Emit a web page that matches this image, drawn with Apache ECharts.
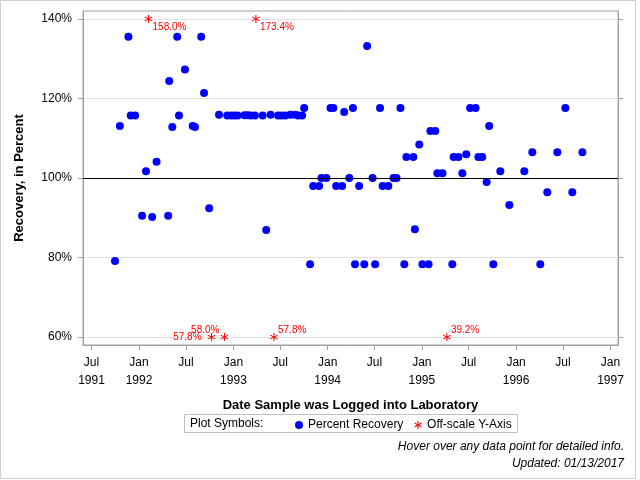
<!DOCTYPE html>
<html>
<head>
<meta charset="utf-8">
<script src="https://cdn.jsdelivr.net/npm/echarts@6/dist/echarts.min.js"></script>
<style>
  html, body { margin: 0; padding: 0; background: #fff; }
  #chart { width: 640px; height: 480px; }
</style>
</head>
<body>
<div id="chart"></div>
<script>
// 样本登记日期与回收率
const recoveryDates = [
  '1991-09-30', '1991-10-19', '1991-11-21', '1991-11-30', '1991-12-17',
  '1992-01-13', '1992-01-28', '1992-02-21', '1992-03-09', '1992-04-23',
  '1992-04-27', '1992-05-09', '1992-05-28', '1992-06-04', '1992-06-27',
  '1992-07-27', '1992-08-05', '1992-08-29', '1992-09-09', '1992-09-29',
  '1992-11-06', '1992-12-08', '1992-12-23', '1993-01-04', '1993-01-17',
  '1993-02-13', '1993-02-25', '1993-03-09', '1993-03-25', '1993-04-24',
  '1993-05-08', '1993-05-25', '1993-06-23', '1993-07-06', '1993-07-21',
  '1993-08-10', '1993-08-29', '1993-09-09', '1993-09-24', '1993-10-02',
  '1993-10-25', '1993-11-06', '1993-11-29', '1993-12-08', '1993-12-27',
  '1994-01-12', '1994-01-23', '1994-02-03', '1994-02-26', '1994-03-06',
  '1994-03-26', '1994-04-09', '1994-04-17', '1994-05-03', '1994-05-23',
  '1994-06-03', '1994-06-24', '1994-07-04', '1994-07-23', '1994-08-02',
  '1994-08-24', '1994-09-13', '1994-09-25', '1994-10-10', '1994-10-25',
  '1994-11-02', '1994-11-29', '1994-12-05', '1994-12-22', '1995-01-03',
  '1995-01-27', '1995-02-03', '1995-02-22', '1995-03-02', '1995-03-22',
  '1995-04-29', '1995-05-04', '1995-05-23', '1995-06-07', '1995-06-22',
  '1995-07-07', '1995-07-28', '1995-08-08', '1995-08-23', '1995-09-09',
  '1995-09-19', '1995-10-05', '1995-11-01', '1995-12-06', '1996-02-02',
  '1996-03-04', '1996-04-04', '1996-05-01', '1996-06-09', '1996-07-10',
  '1996-08-06', '1996-09-14'
]
const recoveryValues = [
  79.1, 113.1, 135.5, 115.7, 115.7,
  90.5, 101.7, 90.2, 104.1, 90.5,
  124.4, 112.8, 135.5, 115.7, 127.3,
  113.1, 112.8, 135.5, 121.4, 92.4,
  115.9, 115.7, 115.7, 115.7, 115.7,
  115.8, 115.8, 115.7, 115.7, 115.7,
  86.9, 115.9, 115.7, 115.7, 115.7,
  115.9, 115.9, 115.7, 115.7, 117.6,
  78.3, 98.0, 98.0, 100.0, 100.0,
  117.6, 117.6, 98.0, 98.0, 116.6,
  100.0, 117.6, 78.3, 98.0, 78.3,
  133.2, 100.0, 78.3, 117.6, 98.0,
  98.0, 100.0, 100.0, 117.6, 78.3,
  105.3, 105.3, 87.1, 108.4, 78.3,
  78.3, 111.8, 111.8, 101.2, 101.2,
  78.3, 105.3, 105.3, 101.2, 106.0,
  117.6, 117.6, 105.3, 105.3, 99.0,
  113.1, 78.3, 101.7, 93.2, 101.7,
  106.5, 78.3, 96.4, 106.5, 117.6,
  96.4, 106.5
]
// 超出Y轴范围的点（实际值）
const offDates = ['1992-02-07', '1992-10-08', '1992-11-27', '1993-03-29', '1993-06-07', '1995-04-08']
const offValues = [158.0, 57.8, 58.0, 173.4, 57.8, 39.2]
// 刻度
const yTicks = [60, 80, 100, 120, 140]
const xTickDates = ['1991-07-01', '1992-01-01', '1992-07-01', '1993-01-01', '1993-07-01', '1994-01-01',
  '1994-07-01', '1995-01-01', '1995-07-01', '1996-01-01', '1996-07-01', '1997-01-01']
const xTickLabels = ['Jul\n1991', 'Jan\n1992', 'Jul', 'Jan\n1993', 'Jul', 'Jan\n1994',
  'Jul', 'Jan\n1995', 'Jul', 'Jan\n1996', 'Jul', 'Jan\n1997']

const font = '"Liberation Sans", Arial, sans-serif'
// 本地时间戳
const ts = s => {
  const [y, m, d] = s.split('-').map(Number)
  return new Date(y, m - 1, d).getTime()
}
const xTicks = xTickDates.map(ts)
const yMin = 58
const yMax = 142
// 星号图标
const asterisk = 'path://M4.4,0L5.6,0L5.6,10L4.4,10Z' +
  'M0.97,1.98L9.63,6.98L9.03,8.02L0.37,3.02Z' +
  'M0.37,6.98L9.03,1.98L9.63,3.02L0.97,8.02Z'
// 标签摆放（右下 / 左 / 左上 / 右上）
const offLabelPlace = ['rb', 'l', 'lt', 'rb', 'rt', 'rt']
const placeStyle = {
  rb: { position: 'right', distance: 0, offset: [0, 8] },
  l: { position: 'left', distance: 6, offset: [0, 0] },
  lt: { position: 'left', distance: 1, offset: [0, -7] },
  rt: { position: 'right', distance: 0, offset: [0, -7] },
}

const chart = echarts.init(document.querySelector('#chart'))
const option = {
  animation: false,
  textStyle: { fontFamily: font },
  grid: {
    left: 83,
    right: 22,
    top: 11,
    bottom: 135,
    show: true,
    borderColor: '#a0a0a0',
    borderWidth: 1,
  },
  xAxis: {
    // 用数值轴承载时间戳，便于自定义刻度
    type: 'value',
    min: ts('1991-05-29'),
    max: ts('1997-01-30'),
    name: 'Date Sample was Logged into Laboratory',
    nameLocation: 'middle',
    nameGap: 54,
    nameTextStyle: { fontSize: 13, fontWeight: 'bold', color: '#000', fontFamily: font },
    axisLine: { lineStyle: { color: '#a0a0a0' } },
    axisTick: { customValues: xTicks, length: 5, lineStyle: { color: '#a0a0a0' } },
    axisLabel: {
      customValues: xTicks,
      margin: 9,
      fontSize: 12,
      lineHeight: 18,
      color: '#000',
      fontFamily: font,
      formatter: v => {
        const i = xTicks.indexOf(v)
        return i >= 0 ? xTickLabels[i] : ''
      },
    },
    splitLine: { show: false },
  },
  yAxis: [
    {
      type: 'value',
      min: yMin,
      max: yMax,
      name: 'Recovery, in Percent',
      nameLocation: 'middle',
      nameGap: 57,
      nameTextStyle: { fontSize: 13, fontWeight: 'bold', color: '#000', fontFamily: font },
      axisLine: { show: true, lineStyle: { color: '#a0a0a0' } },
      axisTick: { show: true, customValues: yTicks, length: 5, lineStyle: { color: '#a0a0a0' } },
      axisLabel: {
        customValues: yTicks,
        margin: 11,
        fontSize: 12,
        color: '#000',
        fontFamily: font,
        formatter: v => v + '%',
      },
      splitLine: { show: true, lineStyle: { color: '#e0e0e0' } },
    },
    {
      type: 'value',
      min: yMin,
      max: yMax,
      position: 'right',
      axisLine: { show: true, lineStyle: { color: '#a0a0a0' } },
      axisTick: { show: true, customValues: yTicks, length: 5, lineStyle: { color: '#a0a0a0' } },
      axisLabel: { show: false },
      splitLine: { show: false },
    },
  ],
  legend: {
    left: 290,
    top: 414,
    itemWidth: 8,
    itemHeight: 8,
    itemGap: 11,
    textStyle: { fontSize: 12, color: '#000', fontFamily: font },
    data: [
      { name: 'Percent Recovery', icon: 'circle' },
      { name: 'Off-scale Y-Axis', icon: asterisk },
    ],
  },
  graphic: [
    {
      type: 'rect',
      silent: true,
      shape: { x: 0.5, y: 0.5, width: 635, height: 478 },
      style: { fill: 'none', stroke: '#d0d0d0', lineWidth: 1 },
    },
    {
      type: 'rect',
      silent: true,
      shape: { x: 184.5, y: 414.5, width: 333, height: 18 },
      style: { fill: 'none', stroke: '#c0c0c0', lineWidth: 1 },
    },
    {
      type: 'text',
      silent: true,
      style: {
        x: 190,
        y: 424,
        text: 'Plot Symbols:',
        font: '12px ' + font,
        fill: '#000',
        verticalAlign: 'middle',
      },
    },
    {
      type: 'text',
      silent: true,
      style: {
        x: 624,
        y: 447,
        text: 'Hover over any data point for detailed info.',
        font: 'italic 12px ' + font,
        fill: '#000',
        align: 'right',
        verticalAlign: 'middle',
      },
    },
    {
      type: 'text',
      silent: true,
      style: {
        x: 624,
        y: 464,
        text: 'Updated: 01/13/2017',
        font: 'italic 12px ' + font,
        fill: '#000',
        align: 'right',
        verticalAlign: 'middle',
      },
    },
  ],
  series: [
    {
      name: 'Percent Recovery',
      type: 'scatter',
      symbol: 'circle',
      symbolSize: 8,
      itemStyle: { color: '#0000ff', opacity: 1 },
      data: recoveryDates.map((d, i) => [ts(d), recoveryValues[i]]),
      markLine: {
        silent: true,
        symbol: 'none',
        label: { show: false },
        lineStyle: { color: '#000', width: 1, type: 'solid' },
        data: [{ yAxis: 100 }],
      },
    },
    {
      name: 'Off-scale Y-Axis',
      type: 'scatter',
      symbol: asterisk,
      symbolSize: 8,
      itemStyle: { color: '#ff0000', opacity: 1 },
      label: {
        show: true,
        color: '#ff0000',
        fontSize: 10,
        fontFamily: font,
        formatter: p => p.value[2].toFixed(1) + '%',
      },
      data: offDates.map((d, i) => ({
        value: [ts(d), Math.min(Math.max(offValues[i], 60), 140), offValues[i]],
        label: placeStyle[offLabelPlace[i]],
      })),
    },
  ],
}
chart.setOption(option)
</script>
</body>
</html>
